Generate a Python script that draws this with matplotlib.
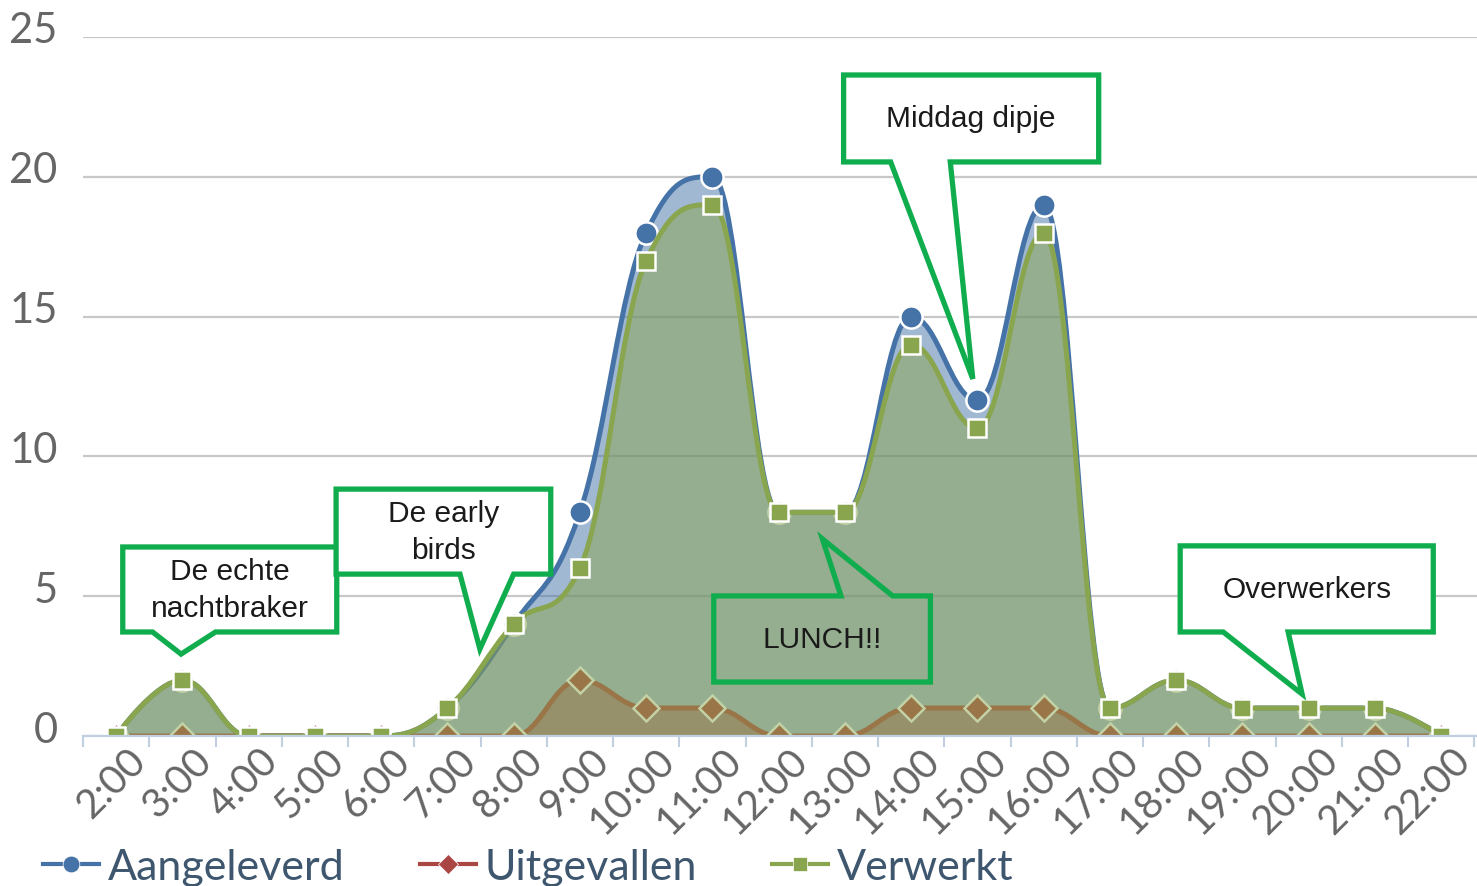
import numpy as np
import matplotlib
matplotlib.use('Agg')
import matplotlib.pyplot as plt
import matplotlib.transforms as mtransforms
from matplotlib.path import Path
from matplotlib.patches import PathPatch, Polygon
from matplotlib.lines import Line2D

plt.rcParams['font.family'] = ['Lato', 'DejaVu Sans']

# data
uren = ['2:00', '3:00', '4:00', '5:00', '6:00', '7:00', '8:00', '9:00', '10:00', '11:00',
        '12:00', '13:00', '14:00', '15:00', '16:00', '17:00', '18:00', '19:00', '20:00',
        '21:00', '22:00']
aangeleverd = [0, 2, 0, 0, 0, 1, 4, 8, 18, 20, 8, 8, 15, 12, 19, 1, 2, 1, 1, 1, 0]
uitgevallen = [0, 0, 0, 0, 0, 0, 0, 2, 1, 1, 0, 0, 1, 1, 1, 0, 0, 0, 0, 0, 0]
verwerkt = [0, 2, 0, 0, 0, 1, 4, 6, 17, 19, 8, 8, 14, 11, 18, 1, 2, 1, 1, 1, 0]
y_ticks = [0, 5, 10, 15, 20, 25]

# callouts: text, box (x0, y0, x1, y1), pointer (base left, tip x, tip y, base right), side, filled
callouts = [
    ('De echte\nnachtbraker', (0.1, 3.72, 3.33, 6.76), (0.55, 0.98, 2.93, 1.5), 'bottom', True),
    ('De early\nbirds', (3.32, 5.79, 6.56, 8.83), (5.19, 5.49, 3.11, 6.0), 'bottom', True),
    ('Middag dipje', (10.98, 20.53, 14.83, 23.64), (11.69, 12.93, 12.77, 12.59), 'bottom', True),
    ('LUNCH!!', (9.02, 1.93, 12.29, 5.01), (10.94, 10.66, 7.05, 11.72), 'top', False),
    ('Overwerkers', (16.06, 3.72, 19.88, 6.80), (16.71, 17.9, 1.5, 17.69), 'bottom', True),
]


def spline(xs, ys):
    # Highcharts-style spline control points
    n = len(xs)
    s = 1.5
    d = s + 1
    left = [None] * n
    right = [None] * n
    for i in range(1, n - 1):
        px, py = xs[i], ys[i]
        lx, ly = xs[i - 1], ys[i - 1]
        nx, ny = xs[i + 1], ys[i + 1]
        lcx = (s * px + lx) / d
        lcy = (s * py + ly) / d
        rcx = (s * px + nx) / d
        rcy = (s * py + ny) / d
        corr = ((rcy - lcy) * (rcx - px)) / (rcx - lcx) + py - rcy
        lcy += corr
        rcy += corr
        if lcy > ly and lcy > py:
            lcy = max(ly, py)
            rcy = 2 * py - lcy
        elif lcy < ly and lcy < py:
            lcy = min(ly, py)
            rcy = 2 * py - lcy
        if rcy > ny and rcy > py:
            rcy = max(ny, py)
            lcy = 2 * py - rcy
        elif rcy < ny and rcy < py:
            rcy = min(ny, py)
            lcy = 2 * py - rcy
        left[i] = (lcx, lcy)
        right[i] = (rcx, rcy)
    verts = [(xs[0], ys[0])]
    codes = [Path.MOVETO]
    for i in range(1, n):
        verts += [right[i - 1] or (xs[i - 1], ys[i - 1]),
                  left[i] or (xs[i], ys[i]),
                  (xs[i], ys[i])]
        codes += [Path.CURVE4] * 3
    return verts, codes


fig = plt.figure(figsize=(14.77, 8.87), dpi=100)
ax = fig.add_axes([0.0562, 0.1691, 0.9438, 0.7881])

x = np.arange(len(uren))

series = [
    ('Aangeleverd', aangeleverd, '#4572A7', 'o', 16),
    ('Uitgevallen', uitgevallen, '#AA4643', 'D', 13),
    ('Verwerkt', verwerkt, '#89A54E', 's', 12.5),
]

handles = []
z = 2
for naam, vals, kleur, marker, ms in series:
    verts, codes = spline(list(x), list(vals))
    fill_path = Path(verts + [(x[-1], 0), (x[0], 0), (x[0], 0)],
                     codes + [Path.LINETO, Path.LINETO, Path.CLOSEPOLY])
    ax.add_patch(PathPatch(fill_path, facecolor=kleur, alpha=0.5, edgecolor='none', zorder=z))
    ax.add_patch(PathPatch(Path(verts, codes), facecolor='none', edgecolor=kleur, lw=3.6,
                           zorder=z + 0.1, capstyle='round', joinstyle='round'))
    ax.plot(x, vals, linestyle='none', marker=marker, markersize=ms, color=kleur,
            markeredgecolor='white', markeredgewidth=1.8, zorder=z + 0.2)
    handles.append(Line2D([], [], color=kleur, lw=3, marker=marker, markersize=ms * 0.75,
                          markeredgecolor='white', markeredgewidth=0.5))
    z += 1

# callouts
groen = '#10AD4E'
for tekst, (x0, y0, x1, y1), (bl, tx, ty, br), kant, gevuld in callouts:
    if kant == 'bottom':
        pts = [(x0, y1), (x1, y1), (x1, y0), (br, y0), (tx, ty), (bl, y0), (x0, y0)]
    else:
        pts = [(x0, y0), (x1, y0), (x1, y1), (br, y1), (tx, ty), (bl, y1), (x0, y1)]
    ax.add_patch(Polygon(pts, closed=True, facecolor='white' if gevuld else 'none',
                         edgecolor=groen, lw=3.8, joinstyle='miter', zorder=10, clip_on=False))
    ax.text((x0 + x1) / 2, (y0 + y1) / 2, tekst, ha='center', va='center', fontsize=21.5,
            family=['Liberation Sans', 'DejaVu Sans'], color='#1a1a1a', linespacing=1.38,
            zorder=11)

ax.set_xlim(-0.48, 20.54)
ax.set_ylim(0, 25)
ax.set_yticks(y_ticks)
ax.set_xticks(x)
ax.set_xticklabels(uren)
ax.set_xticks(np.arange(-0.5, 20.6, 1), minor=True)

for sp in ['top', 'right', 'left']:
    ax.spines[sp].set_visible(False)
ax.spines['bottom'].set_color('#C0D0E0')
ax.spines['bottom'].set_linewidth(1.6)
ax.spines['bottom'].set_zorder(4.5)
ax.set_axisbelow(True)
ax.grid(axis='y', color='#C8C8C8', lw=1.6)

ax.tick_params(axis='y', length=0, pad=22, labelsize=30, labelcolor='#666666')
ax.tick_params(axis='x', which='major', length=0, labelsize=29, labelcolor='#666666')
ax.tick_params(axis='x', which='minor', length=8, width=1.5, color='#C0D0E0')

y_off = mtransforms.ScaledTranslation(0.05, 0.1, fig.dpi_scale_trans)
for lab in ax.get_yticklabels():
    lab.set_horizontalalignment('right')
    lab.set_transform(lab.get_transform() + y_off)

x_off = mtransforms.ScaledTranslation(0.1, 0.0, fig.dpi_scale_trans)
for lab in ax.get_xticklabels():
    lab.set_rotation(45)
    lab.set_ha('right')
    lab.set_va('top')
    lab.set_rotation_mode('anchor')
    lab.set_transform(lab.get_transform() + x_off)

fig.legend(handles, [s[0] for s in series], loc='lower left', bbox_to_anchor=(0.003, -0.044),
           ncol=3, frameon=False, fontsize=31, handlelength=1.3, handletextpad=0.2,
           columnspacing=1.75, labelcolor='#3E576F')

fig.savefig('out.png', dpi=100)
